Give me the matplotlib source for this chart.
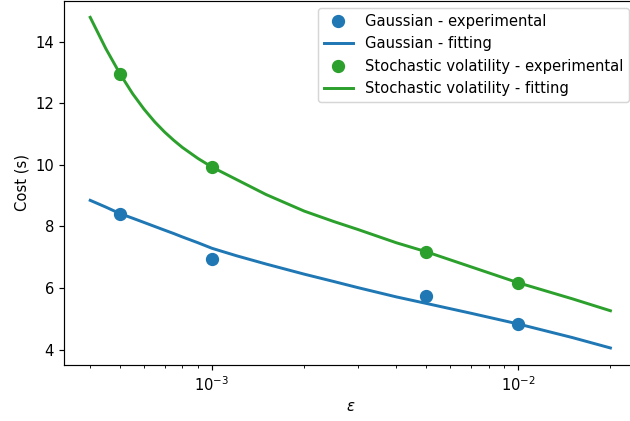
import matplotlib
matplotlib.use("Agg")
import matplotlib.pyplot as plt
import numpy as np

# experimental points
eps_exp = [5e-4, 1e-3, 5e-3, 1e-2]
gauss_exp = [8.42, 6.95, 5.73, 4.83]
sv_exp = [12.95, 9.93, 7.18, 6.17]

# fitted curves
eps_fit = [4e-4, 4.5e-4, 5e-4, 5.5e-4, 6e-4, 6.5e-4, 7e-4, 7.5e-4, 8e-4, 9e-4,
           1e-3, 1.2e-3, 1.5e-3, 2e-3, 2.5e-3, 3e-3, 4e-3, 5e-3, 7e-3, 1e-2,
           1.5e-2, 2e-2]
gauss_fit = [8.85, 8.63, 8.42, 8.27, 8.13, 8.00, 7.88, 7.77, 7.66, 7.47,
             7.29, 7.05, 6.78, 6.45, 6.21, 6.01, 5.71, 5.50, 5.18, 4.83,
             4.39, 4.05]
sv_fit = [14.80, 13.78, 12.97, 12.32, 11.81, 11.40, 11.07, 10.80, 10.57, 10.21,
          9.93, 9.53, 9.04, 8.50, 8.16, 7.90, 7.47, 7.18, 6.69, 6.17,
          5.65, 5.26]

dpi = 106
fig = plt.figure(figsize=(630 / dpi, 421 / dpi), dpi=dpi)
ax = fig.add_axes([0.1019, 0.1342, 0.9083, 0.8639])

ax.plot(eps_exp, gauss_exp, 'o', color='C0', markersize=8, label='Gaussian - experimental')
ax.plot(eps_fit, gauss_fit, '-', color='C0', lw=2, label='Gaussian - fitting')
ax.plot(eps_exp, sv_exp, 'o', color='C2', markersize=8, label='Stochastic volatility - experimental')
ax.plot(eps_fit, sv_fit, '-', color='C2', lw=2, label='Stochastic volatility - fitting')

ax.set_xscale('log')
ax.set_xlabel(r'$\varepsilon$')
ax.set_ylabel('Cost (s)')
ax.legend(loc='upper right')

fig.savefig('out.png', dpi=dpi)
